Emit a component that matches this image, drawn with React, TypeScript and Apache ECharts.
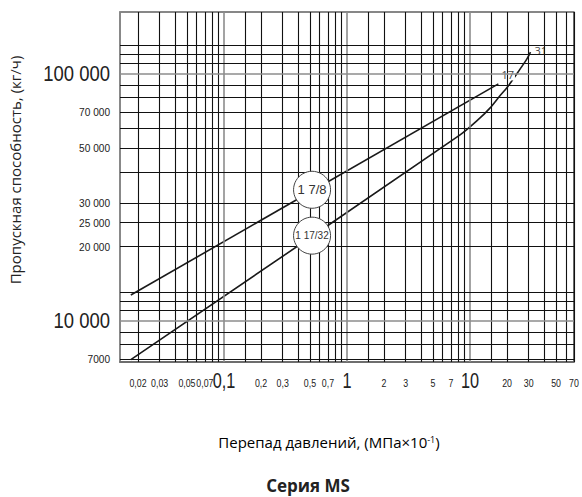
import React, { useEffect, useRef } from 'react';
import * as echarts from 'echarts';

const LABEL_FONT = '"Liberation Sans", Arial, sans-serif';
const TITLE_FONT = '"Open Sans", "Noto Sans", sans-serif';

// axis ranges
const xRange = [1 / 70, 70];
const yRange = [6800, 178000];

// grid lines
const xMinorGrid = [
  0.02, 0.03, 0.04, 0.05, 0.06, 0.07, 0.08, 0.09,
  0.15, 0.2, 0.3, 0.4, 0.5, 0.6, 0.7, 0.8, 0.9,
  1.5, 2, 3, 4, 5, 6, 7, 8, 9,
  15, 20, 30, 40, 50, 60, 70,
];
const xMajorGrid = [0.1, 1, 10];
const yMinorGrid = [
  7000, 8000, 9000, 11000, 12000, 13000,
  20000, 25000, 30000, 40000, 50000, 60000, 70000, 80000, 90000,
  110000, 120000, 130000,
];
const yMajorGrid = [10000, 100000];

// tick labels
const xTickValues = [0.02, 0.03, 0.05, 0.07, 0.1, 0.2, 0.3, 0.5, 0.7, 1, 2, 3, 5, 7, 10, 20, 30, 50, 70];
const xTickLabels = ['0,02', '0,03', '0,05', '0,07', '0,1', '0,2', '0,3', '0,5', '0,7', '1', '2', '3', '5', '7', '10', '20', '30', '50', '70'];
const yTickValues = [7000, 10000, 20000, 25000, 30000, 50000, 70000, 100000];
const yTickLabels = ['7000', '10 000', '20 000', '25 000', '30 000', '50 000', '70 000', '100 000'];

// series: [pressure drop, capacity]
const series178 = [
  [0.0175, 12700],
  [17, 91000],
];
const series11732 = [
  [0.0175, 6950],
  [8.3, 56600],
  [12, 66100],
  [14.5, 72600],
  [17.5, 81500],
  [20, 88000],
  [22.5, 95500],
  [25.5, 104500],
  [29, 115000],
  [31, 122500],
];
const seriesEndLabels = ['17', '31'];
const circleNames = ['1 7/8', '1 17/32'];
const circlePoints = [
  [0.52, 33900],
  [0.52, 22100],
];

const App: React.FC = () => {
  const ref = useRef<HTMLDivElement>(null);

  useEffect(() => {
    if (!ref.current) return;
    const chart = echarts.init(ref.current, undefined, { renderer: 'svg' });

    const gridLine = (major: boolean) => ({
      color: major ? '#8c8c8c' : '#111',
      width: major ? 1.6 : 1.1,
      type: 'solid',
    });
    const xLines = [...xMinorGrid, ...xMajorGrid].map((v) => ({
      xAxis: v,
      lineStyle: gridLine(xMajorGrid.includes(v)),
    }));
    const yLines = [...yMinorGrid, ...yMajorGrid].map((v) => ({
      yAxis: v,
      lineStyle: gridLine(yMajorGrid.includes(v)),
    }));

    const option: any = {
      animation: false,
      backgroundColor: '#fff',
      grid: {
        left: 120,
        right: 8,
        top: 12,
        bottom: 135,
        show: true,
        borderColor: '#111',
        borderWidth: 1.2,
        backgroundColor: 'transparent',
      },
      xAxis: {
        type: 'log',
        logBase: 10,
        min: xRange[0],
        max: xRange[1],
        axisLabel: { show: false },
        axisTick: { show: false },
        splitLine: { show: false },
        axisLine: { show: true, lineStyle: { color: '#666', width: 1.6 } },
      },
      yAxis: {
        type: 'log',
        logBase: 10,
        min: yRange[0],
        max: yRange[1],
        axisLabel: { show: false },
        axisTick: { show: false },
        splitLine: { show: false },
        axisLine: { show: true, lineStyle: { color: '#8c8c8c', width: 1.8 } },
      },
      series: [
        {
          type: 'line',
          name: 'grid',
          z: 1,
          data: [[1, 10000]],
          showSymbol: false,
          symbol: 'none',
          lineStyle: { opacity: 0 },
          silent: true,
          markLine: {
            silent: true,
            symbol: ['none', 'none'],
            animation: false,
            label: { show: false },
            data: [...xLines, ...yLines],
          },
        },
        {
          type: 'line',
          name: '1 7/8',
          z: 3,
          data: series178,
          symbol: 'none',
          lineStyle: { color: '#1a1a1a', width: 1.6 },
          endLabel: {
            show: true,
            formatter: seriesEndLabels[0],
            fontSize: 11,
            fontFamily: TITLE_FONT,
            color: '#444',
            backgroundColor: '#fff',
            padding: [0, 1],
            distance: 2,
            offset: [0, -9],
          },
        },
        {
          type: 'line',
          name: '1 17/32',
          z: 3,
          data: series11732,
          symbol: 'none',
          smooth: 0.3,
          lineStyle: { color: '#1a1a1a', width: 1.6 },
          endLabel: {
            show: true,
            formatter: seriesEndLabels[1],
            fontSize: 11,
            fontFamily: TITLE_FONT,
            color: '#444',
            backgroundColor: '#fff',
            padding: [0, 1],
            distance: 3,
            offset: [0, -2],
          },
        },
        {
          type: 'scatter',
          z: 5,
          symbol: 'circle',
          symbolSize: 37,
          itemStyle: { color: '#fff', borderColor: '#444', borderWidth: 1, opacity: 1 },
          data: circlePoints.map((p, i) => ({
            value: p,
            name: circleNames[i],
            label: {
              show: true,
              position: 'inside',
              formatter: circleNames[i],
              fontFamily: LABEL_FONT,
              fontSize: i === 0 ? 13 : 10,
              color: '#333',
            },
          })),
        },
      ],
    };

    chart.setOption(option);

    // tick labels placed through the axes' own scales
    const bottomPx = chart.convertToPixel({ gridIndex: 0 } as any, [1, yRange[0]])[1];
    const leftPx = chart.convertToPixel({ gridIndex: 0 } as any, [xRange[0], 10000])[0];

    const xLabelGraphics = xTickValues.map((v, i) => {
      const major = xMajorGrid.includes(v);
      const px = chart.convertToPixel({ gridIndex: 0 } as any, [v, yRange[0]])[0];
      return {
        type: 'text',
        x: px,
        y: bottomPx + (major ? 18 : 21),
        scaleX: major ? 0.74 : 0.8,
        silent: true,
        style: {
          text: xTickLabels[i],
          font: `${major ? 22 : 11}px ${LABEL_FONT}`,
          fill: '#222',
          align: 'center',
          verticalAlign: 'middle',
        },
      };
    });
    const yLabelGraphics = yTickValues.map((v, i) => {
      const major = yMajorGrid.includes(v);
      const py = chart.convertToPixel({ gridIndex: 0 } as any, [1, v])[1];
      return {
        type: 'text',
        x: leftPx - 10,
        y: py,
        scaleX: major ? 0.84 : 0.92,
        silent: true,
        style: {
          text: yTickLabels[i],
          font: `${major ? 22 : 11}px ${LABEL_FONT}`,
          fill: '#222',
          align: 'right',
          verticalAlign: 'middle',
        },
      };
    });

    chart.setOption({
      graphic: [
        ...xLabelGraphics,
        ...yLabelGraphics,
        {
          type: 'text',
          x: 15,
          y: 170,
          rotation: Math.PI / 2,
          silent: true,
          style: {
            text: 'Пропускная способность, (кг/ч)',
            font: `15px ${TITLE_FONT}`,
            fill: '#222',
            align: 'center',
            verticalAlign: 'middle',
          },
        },
        {
          type: 'text',
          x: 329,
          y: 442,
          silent: true,
          style: {
            text: '{a|Перепад давлений, (МПа×10}{s|-1}{a|)}',
            align: 'center',
            verticalAlign: 'middle',
            rich: {
              a: { fontSize: 15, fontFamily: TITLE_FONT, color: '#222' },
              s: { fontSize: 9, fontFamily: TITLE_FONT, color: '#222', verticalAlign: 'top' },
            },
          },
        },
        {
          type: 'text',
          x: 308,
          y: 485,
          silent: true,
          style: {
            text: 'Серия MS',
            font: `bold 17px ${TITLE_FONT}`,
            fill: '#222',
            align: 'center',
            verticalAlign: 'middle',
          },
        },
      ],
    });

    return () => chart.dispose();
  }, []);

  return <div ref={ref} style={{ position: 'absolute', left: 0, top: 0, width: 582, height: 497 }} />;
};

export default App;
